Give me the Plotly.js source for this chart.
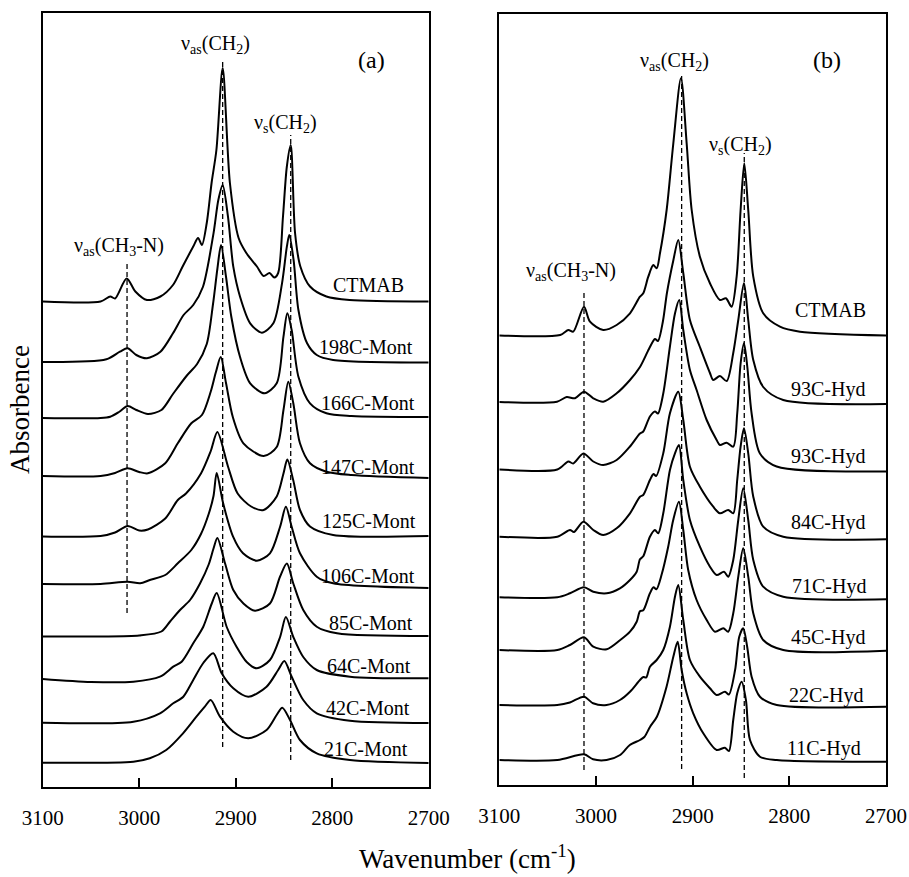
<!DOCTYPE html>
<html>
<head>
<meta charset="utf-8">
<script src="https://cdn.plot.ly/plotly-3.0.1.min.js"></script>
<style>html,body{margin:0;padding:0;background:#fff;}#chart{width:909px;height:877px;}</style>
</head>
<body>
<div id="chart"></div>
<script>
// ---------------- Panel (a): CTMAB-montmorillonite ----------------
const labelsA = ['CTMAB','198C-Mont','166C-Mont','147C-Mont','125C-Mont','106C-Mont','85C-Mont','64C-Mont','42C-Mont','21C-Mont'];
const offsetsA = [485.5, 425, 368, 310, 250.5, 201, 150.5, 108, 64, 24];

const wnA_CTMAB = [3100,3040,3030,3025,3013,3004,2992,2978,2965,2955,2944,2939,2935,2930,2925,2920,2913.5,2906,2897,2889,2878,2871,2865,2860,2856,2851,2847,2843,2838.5,2833,2823,2806,2782,2700];
const abA_CTMAB = [0,0,5,3,23,10,1.5,5,16.5,35,55,63.5,56.5,78.5,118.5,151.5,233.5,118.5,63.5,48.5,35,25.5,28.5,24,28.5,85,135,156.5,68.5,35,15,5,1.5,0];

const wnA_198 = [3100,3034,3020,3012,3003,2992,2978,2965,2954,2944,2934,2923,2918,2913.5,2908,2902.5,2895.5,2885,2873,2861,2852,2847,2844.5,2840,2835,2826,2816,2799,2700];
const abA_198 = [0,2.7,10.3,13.7,7,3.7,10.3,28.7,47,57,75,128.7,162,177,145.3,95.3,65.3,38.7,29.3,38.7,78.7,115.3,127,102,52,18.7,7,2,-0.5];

const wnA_166 = [3100,3040,3030,3021,3012,3003,2991,2977,2965,2951,2940,2930,2923.5,2919,2915.2,2910,2904.5,2895.5,2885,2870,2857.5,2850.5,2846.5,2842,2835,2823,2806,2780,2700];
const abA_166 = [1,1,2.3,7,13,9,5,9,25,43,55,75,115,150,174,142,102,62,35.7,25.7,35.7,82.3,105.7,89,42.3,15.7,5.7,3,2];

const wnA_147 = [3100,3040,3025,3012,3000,2991,2973,2960,2946,2935,2926,2920.5,2915.5,2910,2903,2892,2871,2857.5,2850.5,2845.5,2840.3,2833.4,2823,2806,2780,2700];
const abA_147 = [1,1,4,8.7,5,3.7,13.7,33.7,53.7,62,85,105,120,93.7,60,33.7,21,30,67,95.3,73.7,33.7,13.7,5.3,2,-1];

const wnA_125 = [3100,3040,3025,3012,3000,2991,2973,2960,2951.5,2936,2926,2919,2908,2898,2884,2871,2857.5,2850.5,2846.5,2840.3,2833.4,2823,2799,2700];
const abA_125 = [0,0.5,4,10.5,6,7,18,36.5,43,63,85,104.5,70,43,30,26.5,40,63,77,56,26.5,10,1.5,0.5];

const wnA_106 = [3100,3040,3012,2999,2989,2973,2960,2946,2936,2928,2923,2919.7,2913,2902.7,2892.4,2878,2864.5,2854,2848,2842,2833.4,2816,2799,2700];
const abA_106 = [2,2,4.3,2.7,6,11,22.7,36,52,72,90,113,82.7,49.3,32.7,25.3,32.7,59.3,79.3,59.3,32.7,9.3,2.7,-2];

const wnA_85 = [3100,3040,3000,2977,2968,2957.7,2947.3,2937,2928,2923,2919,2911,2902.5,2892,2880,2864.5,2854,2847,2840.3,2830,2816,2795,2700];
const abA_85 = [0,0,1,5,15,26.5,36.5,53,72,88,98.5,73,46.5,33,25.8,33,60,73,53,26.5,9.8,3.2,0.5];

const wnA_64 = [3100,3050,3006,2978.4,2964.7,2956,2944,2933.6,2925,2919.7,2909.3,2899,2888.6,2878.2,2864.5,2854,2848,2840.3,2830,2816,2781.6,2700];
const abA_64 = [0,-3,-2.7,2.3,12.3,17.3,35.7,52.3,75,86,52,32,17,10.7,19,42,62,42,22,9,2.3,0.7];

const wnA_42 = [3100,3006,2978.4,2964.7,2954.3,2944,2933.6,2923.2,2914.5,2902.5,2887,2868,2856,2849.6,2842,2830,2816,2781.6,2700];
const abA_42 = [0.3,1.3,9.7,19.7,26.3,43,60,69.7,49.7,34.7,26.3,36.3,53,62,46.3,23,9.7,2.3,0];

const wnA_21 = [3100,3006,2989,2972,2954.6,2940.7,2932,2925.9,2916.3,2902.5,2887,2868,2857.6,2851.7,2843.7,2833.4,2816,2781.6,2700];
const abA_21 = [0.3,1.3,4.7,13,29.7,46.3,56.3,63,46.3,31.3,24.7,33,48,55.3,43,23,9.7,3,0];

// ---------------- Panel (b): CTMAB-hydrotalcite ----------------
const labelsB = ['CTMAB','93C-Hyd','93C-Hyd','84C-Hyd','71C-Hyd','45C-Hyd','22C-Hyd','11C-Hyd'];
const offsetsB = [449.5, 382, 314.5, 247, 186.7, 134.7, 79, 24];

const wnB_CTMAB = [3100,3037,3028.6,3023.5,3012.4,3006.2,2992.5,2978.6,2964.8,2954.5,2951.1,2945.9,2940.7,2937.2,2933.8,2926.9,2920,2912.1,2906.2,2901,2892.5,2882.1,2871.8,2865.6,2859.7,2854.5,2850.4,2846.6,2842.5,2837.3,2827,2809.7,2789,2700];
const abB_CTMAB = [0,0.5,5.5,3.8,28.8,13.8,5.5,10.5,22.2,38.8,42.2,58.8,70.5,67.2,82.2,125.5,192.2,257.2,192.2,125.5,78.8,52.2,35.5,37.2,28.8,58.8,125.5,172.2,125.5,58.8,22.2,8.8,3.8,0];

const wnB_93a = [3100,3040.3,3030.3,3021.7,3012.4,3002.8,2992.5,2978.6,2964.8,2954.5,2945.2,2939,2935.9,2930.7,2926.6,2919.9,2914.9,2909.7,2902.8,2892.5,2882.1,2878.7,2871.8,2864.8,2858,2852.8,2846.9,2842.5,2837.3,2827,2806.3,2700];
const abB_93a = [1,1.3,6,4.7,11.3,4.7,1.3,9.7,23,36,54,64,62,82,110,143,163,130,83,56,30,23,27,22,50,83,120,83,43,16,3,-1];

const wnB_93b = [3100,3040,3028.6,3023.6,3013,3002.8,2992.5,2978.6,2964.8,2954.5,2951.1,2944.2,2939,2935.9,2930.4,2923.5,2918.3,2913.9,2909.7,2902.8,2895.9,2885.5,2875.2,2871.8,2864.8,2858,2853.9,2850.4,2846.9,2843.5,2839,2830.4,2813.1,2700];
const abB_93b = [1,1,9,7,17,9,5.5,10.5,24,37,39,54,59,57,77,124,157,170.5,140.5,100.5,80.5,50.5,30.5,25.5,27.8,23.8,57,107,127.2,104,57,17,4,-1];

const wnB_84 = [3100,3040,3026.9,3022.8,3013,3002.8,2992.5,2978.6,2964.8,2954.5,2951.1,2944.2,2940.5,2937.8,2930.4,2923.5,2914.9,2909.7,2902.8,2892.5,2878.7,2871.8,2863.2,2858,2853.9,2850.4,2846.9,2842.5,2837.3,2827,2806.3,2700];
const abB_84 = [1.3,1.3,8,6,16.3,8,3,9.7,24.7,41.3,43,58,64,62,84.7,124.7,146.3,118,71.3,51.3,31.3,24.7,28,24.7,58,91.3,109.7,84.7,41.3,11.3,1.3,-1.3];

const wnB_71 = [3100,3040,3026.9,3012.4,3002.8,2988.9,2975.2,2964.8,2957.9,2954.5,2951.1,2944.2,2939,2935.6,2930.4,2923.5,2918.3,2914.2,2909.7,2902.8,2892.5,2882.1,2875.2,2867.6,2863.2,2858,2852.8,2847.7,2842.5,2837.3,2827,2806.3,2700];
const abB_71 = [1,1,5,11,6.6,5,10,18.3,26.6,39,42,61.6,68.3,65,85,128.3,145,153.3,118.3,78.3,51.6,31.6,23.3,26.6,21.6,38.3,78.3,110,78.3,38.3,11.6,1.6,-1];

const wnB_45 = [3100,3040,3026.9,3012.4,3002.8,2988.9,2975.2,2964.8,2957.9,2954.5,2951.1,2944.2,2940.5,2937.5,2932,2925.3,2920.1,2914.2,2909.7,2904.6,2895.9,2885.5,2876.9,2868.3,2863.2,2858,2852.8,2847.7,2842.5,2837.3,2827,2806.3,2700];
const abB_45 = [0.3,0.3,5.3,13,3.6,1,10,18.6,28.6,39,40,57,63,61,76,103.6,130.3,148.6,120.3,80.3,50.3,30.3,18.6,22,18.6,37,73.6,102,73.6,37,10.3,0.3,-0.4];

const wnB_22 = [3100,3040,3027,3012.4,3003,2989,2975.2,2964.8,2954.5,2951,2948,2944.2,2937.2,2930.4,2923.5,2918.3,2914.9,2909.7,2902.8,2892.5,2882.1,2875.2,2866.6,2862.5,2856.1,2851.8,2847.7,2843.6,2839,2830.4,2813,2700];
const abB_22 = [1,1,3.5,9.3,2.7,1,6,14.3,26,29,28.5,39.3,46,56,79.3,109.3,121,86,46,29.3,17.7,11,14.3,11.5,36,69.3,77.7,59.3,29.3,9.3,1,-0.7];

const wnB_11 = [3100,3040,3012.4,3003,2989,2975,2965,2954.5,2950,2944,2937,2927,2920,2915.5,2911.4,2906.2,2899.4,2889,2875.2,2866.6,2862.5,2858,2853.9,2849.3,2844.9,2840.7,2830.4,2813,2700];
const abB_11 = [1,1,6.7,1.7,1,6,16,21,24,34.3,44.3,74.3,104.3,119.3,91,67.7,47.7,27.7,11,13.3,10,41,67.7,79.3,61,21,4.3,1,-0.7];

// Band assignment marker lines (wavenumber, lower and upper level)
const bandWnA = [3012.6, 2913.5, 2843];
const bandLowA = [174, 40, 27];
const bandHighA = [524, 728, 652];
const bandWnB = [3012.4, 2911.4, 2846.6];
const bandLowB = [15, 16, 7];
const bandHighB = [492, 710, 632];

const tickVals = [3100, 3000, 2900, 2800, 2700];
const tickText = ['3100', '3000', '2900', '2800', '2700'];

// ---------------- build ----------------
const wnA = [wnA_CTMAB, wnA_198, wnA_166, wnA_147, wnA_125, wnA_106, wnA_85, wnA_64, wnA_42, wnA_21];
const abA = [abA_CTMAB, abA_198, abA_166, abA_147, abA_125, abA_106, abA_85, abA_64, abA_42, abA_21];
const wnB = [wnB_CTMAB, wnB_93a, wnB_93b, wnB_84, wnB_71, wnB_45, wnB_22, wnB_11];
const abB = [abB_CTMAB, abB_93a, abB_93b, abB_84, abB_71, abB_45, abB_22, abB_11];

const FONT = 'Liberation Serif, Times New Roman, serif';
const W = 909, H = 877;
const px = x => x / W;
const py = y => 1 - y / H;

const traces = [];
wnA.forEach((w, i) => {
  traces.push({x: w, y: abA[i].map(v => v + offsetsA[i]), xaxis: 'x', yaxis: 'y', type: 'scatter', mode: 'lines',
    line: {color: '#000', width: 2, shape: 'spline', smoothing: 0.8}, hoverinfo: 'skip', name: labelsA[i]});
});
wnB.forEach((w, i) => {
  traces.push({x: w, y: abB[i].map(v => v + offsetsB[i]), xaxis: 'x2', yaxis: 'y2', type: 'scatter', mode: 'lines',
    line: {color: '#000', width: 2, shape: 'spline', smoothing: 0.8}, hoverinfo: 'skip', name: labelsB[i]});
});

const shapes = [];
bandWnA.forEach((w, i) => shapes.push({type: 'line', xref: 'x', yref: 'y', x0: w, x1: w, y0: bandLowA[i], y1: bandHighA[i],
  line: {color: '#000', width: 1.3, dash: '5px,3px'}}));
bandWnB.forEach((w, i) => shapes.push({type: 'line', xref: 'x2', yref: 'y2', x0: w, x1: w, y0: bandLowB[i], y1: bandHighB[i],
  line: {color: '#000', width: 1.3, dash: '5px,3px'}}));

const labelPosA = [[406,285],[415,346.7],[416.7,403.3],[416.7,467.3],[417.7,520.7],[416.7,576],[415,622.7],[413.3,666],[411.7,708.3],[410,749.3]];
const labelPosB = [[868.3,310],[866.7,390],[866.7,456.7],[866.7,522.7],[868.3,586.7],[866.7,637.3],[865,695],[863.3,748.3]];

const annotations = [];
labelsA.forEach((t, i) => annotations.push({text: t, xref: 'paper', yref: 'paper', x: px(labelPosA[i][0]), y: py(labelPosA[i][1]),
  xanchor: 'right', yanchor: 'middle', showarrow: false, font: {family: FONT, size: 20, color: '#000'}}));
labelsB.forEach((t, i) => annotations.push({text: t, xref: 'paper', yref: 'paper', x: px(labelPosB[i][0]), y: py(labelPosB[i][1]),
  xanchor: 'right', yanchor: 'middle', showarrow: false, font: {family: FONT, size: 20, color: '#000'}}));

function note(text, x, y, size, extra) {
  annotations.push(Object.assign({text: text, xref: 'paper', yref: 'paper', x: px(x), y: py(y), xanchor: 'center', yanchor: 'middle',
    showarrow: false, font: {family: FONT, size: size, color: '#000'}}, extra || {}));
}
note('ν<sub>as</sub>(CH<sub>2</sub>)', 215, 44, 20);
note('ν<sub>s</sub>(CH<sub>2</sub>)', 285, 124, 20);
note('ν<sub>as</sub>(CH<sub>3</sub>-N)', 119, 247, 20);
note('(a)', 371, 60, 24);
note('ν<sub>as</sub>(CH<sub>2</sub>)', 674, 61, 20);
note('ν<sub>s</sub>(CH<sub>2</sub>)', 740, 145, 20);
note('ν<sub>as</sub>(CH<sub>3</sub>-N)', 571, 271, 20);
note('(b)', 826.7, 60, 24);
note('Wavenumber (cm<sup>-1</sup>)', 467, 857, 27);
note('Absorbence', 20, 410, 27, {textangle: -90});

const xCommon = {range: [3100, 2700], autorange: false, tickmode: 'array', tickvals: tickVals, ticktext: tickText,
  ticks: 'inside', ticklen: 9, tickwidth: 2, tickcolor: '#000', showline: true, linewidth: 2, linecolor: '#000', mirror: true,
  showgrid: false, zeroline: false, tickfont: {family: FONT, size: 21, color: '#000'}, ticklabelstandoff: 11, fixedrange: true};
const yCommon = {showline: true, linewidth: 2, linecolor: '#000', mirror: true, showgrid: false, zeroline: false,
  showticklabels: false, ticks: '', fixedrange: true, autorange: false};

const layout = {
  width: W, height: H, margin: {l: 0, r: 0, t: 0, b: 0}, paper_bgcolor: '#fff', plot_bgcolor: 'rgba(0,0,0,0)', showlegend: false,
  xaxis: Object.assign({}, xCommon, {domain: [px(42.7), px(428.7)], anchor: 'y'}),
  yaxis: Object.assign({}, yCommon, {domain: [py(787), py(13)], range: [0, 774], anchor: 'x'}),
  xaxis2: Object.assign({}, xCommon, {domain: [px(499.3), px(886)], anchor: 'y2'}),
  yaxis2: Object.assign({}, yCommon, {domain: [py(785), py(14)], range: [0, 771], anchor: 'x2'}),
  shapes: shapes, annotations: annotations
};

Plotly.newPlot('chart', traces, layout, {displayModeBar: false});
</script>
</body>
</html>
